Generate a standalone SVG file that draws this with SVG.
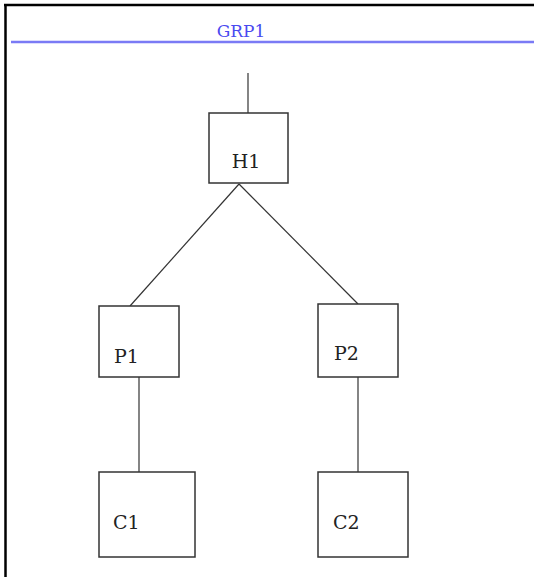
<svg xmlns="http://www.w3.org/2000/svg" width="534" height="577" viewBox="0 0 534 577">
<style>
.box{fill:#fff;stroke:#333;stroke-width:1.5}
.lbl{font-family:"DejaVu Serif",serif;font-size:19px;fill:#222}
.conn line{stroke:#333;stroke-width:1.2}
</style>
<rect x="0" y="0" width="534" height="577" fill="#fff"/>
<g id="frame">
<line x1="4" y1="5" x2="534" y2="5" stroke="#000" stroke-width="2.5"/>
<line x1="5.5" y1="4" x2="5.5" y2="577" stroke="#000" stroke-width="2.5"/>
</g>
<g id="group-GRP1">
<line x1="11" y1="42" x2="534" y2="42" stroke="#7a7af5" stroke-width="2.5"/>
<text x="241" y="37" text-anchor="middle" style="font-family:'DejaVu Serif',serif;font-size:17px;fill:#4a4af0">GRP1</text>
</g>
<g class="conn" id="connectors">
<line x1="248" y1="73" x2="248" y2="113"/>
<line x1="239" y1="184" x2="130" y2="306"/>
<line x1="239" y1="184" x2="358" y2="304"/>
<line x1="139" y1="377" x2="139" y2="472"/>
<line x1="358" y1="377" x2="358" y2="472"/>
</g>
<g id="H1"><rect class="box" x="209" y="113" width="79" height="70"/><text class="lbl" x="246" y="168" text-anchor="middle">H1</text></g>
<g id="P1"><rect class="box" x="99" y="306" width="80" height="71"/><text class="lbl" x="114" y="363">P1</text></g>
<g id="P2"><rect class="box" x="318" y="304" width="80" height="73"/><text class="lbl" x="334" y="360">P2</text></g>
<g id="C1"><rect class="box" x="99" y="472" width="96" height="85"/><text class="lbl" x="113" y="529">C1</text></g>
<g id="C2"><rect class="box" x="318" y="472" width="90" height="85"/><text class="lbl" x="333" y="529">C2</text></g>
</svg>
